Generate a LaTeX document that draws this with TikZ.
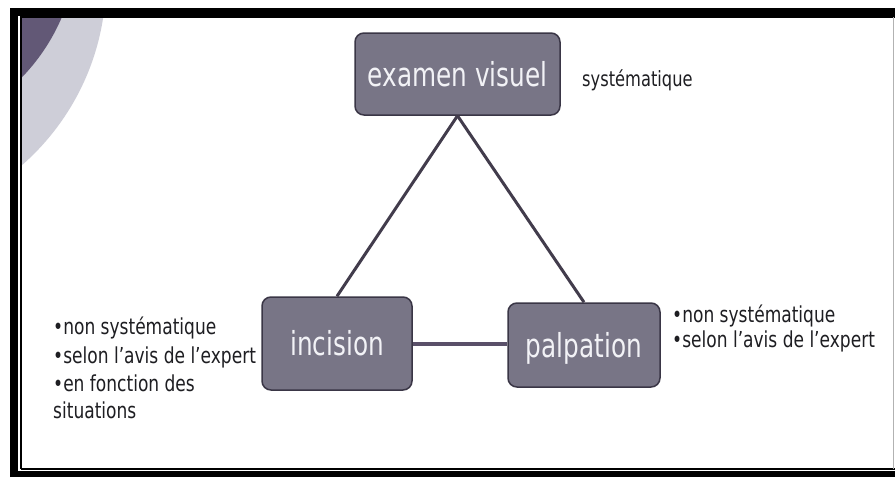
\documentclass[tikz,border=0pt]{standalone}
\usepackage{fontspec}
\setmainfont{DejaVu Sans}[FakeStretch=0.75]
\newfontfamily\notefont{DejaVu Sans}[FakeStretch=0.775]
\definecolor{boxfill}{RGB}{120,117,134}
\definecolor{boxline}{RGB}{58,54,70}
\definecolor{boxtext}{RGB}{242,242,246}
\definecolor{linkcol}{RGB}{66,60,76}
\definecolor{hlink}{RGB}{90,80,105}
\definecolor{notetext}{RGB}{30,30,34}
\definecolor{disclight}{RGB}{206,206,216}
\definecolor{discdark}{RGB}{98,88,118}
\begin{document}
\begin{tikzpicture}[x=1pt,y=-1pt,
  box/.style={draw=boxline, line width=1.5pt, fill=boxfill, rounded corners=9pt,
    text=boxtext, font=\fontsize{33}{36}\selectfont, text height=24pt, text depth=0pt, inner sep=0pt},
  note/.style={anchor=base west, inner sep=0pt, font=\notefont\fontsize{22}{28}\selectfont, text=notetext},
  link/.style={draw=linkcol, line width=3pt},
  hlinkstyle/.style={draw=hlink, line width=4pt}]
\useasboundingbox (0,0) rectangle (895,477);
\fill[white] (0,0) rectangle (895,477);
% decorative discs
\begin{scope}
  \clip (21,17) rectangle (893,469);
  \fill[disclight] (-140,-20) circle (246);
  \fill[discdark] (-120,-60) circle (197.5);
\end{scope}
% frame
\draw[black, line width=8pt] (14,477) -- (14,11.5) -- (895,11.5);
\draw[black, line width=6pt] (10,474) -- (895,474);
\draw[black, line width=1.2pt] (21,469) -- (21,17) -- (895,17);
\draw[black, line width=1.2pt] (21,469) -- (895,469);
\draw[gray!60, line width=1pt] (893,17) -- (893,469);
% boxes
\node[box, minimum width=205pt, minimum height=82pt] (ev) at (457.5,74) {examen visuel};
\node[box, minimum width=150pt, minimum height=93pt] (inc) at (337,343.5) {incision};
\node[box, minimum width=152pt, minimum height=84pt] (pal) at (584,345) {palpation};
% connectors
\draw[link] (ev.south) -- (inc.north);
\draw[link] (ev.south) -- (pal.north);
\draw[hlinkstyle] (inc.east) -- (inc.east -| pal.west);
% notes
\node[note, font=\notefont\fontsize{21}{26}\selectfont] (sys) at (582,86) {systématique};
\node[note] (l1) at (53,334) {•non systématique};
\node[note] (l2) at (53,363) {•selon l’avis de l’expert};
\node[note] (l3) at (53,391) {•en fonction des};
\node[note] (l4) at (53,418) {situations};
\node[note] (r1) at (672,322) {•non systématique};
\node[note] (r2) at (672,347) {•selon l’avis de l’expert};
\end{tikzpicture}
\end{document}
